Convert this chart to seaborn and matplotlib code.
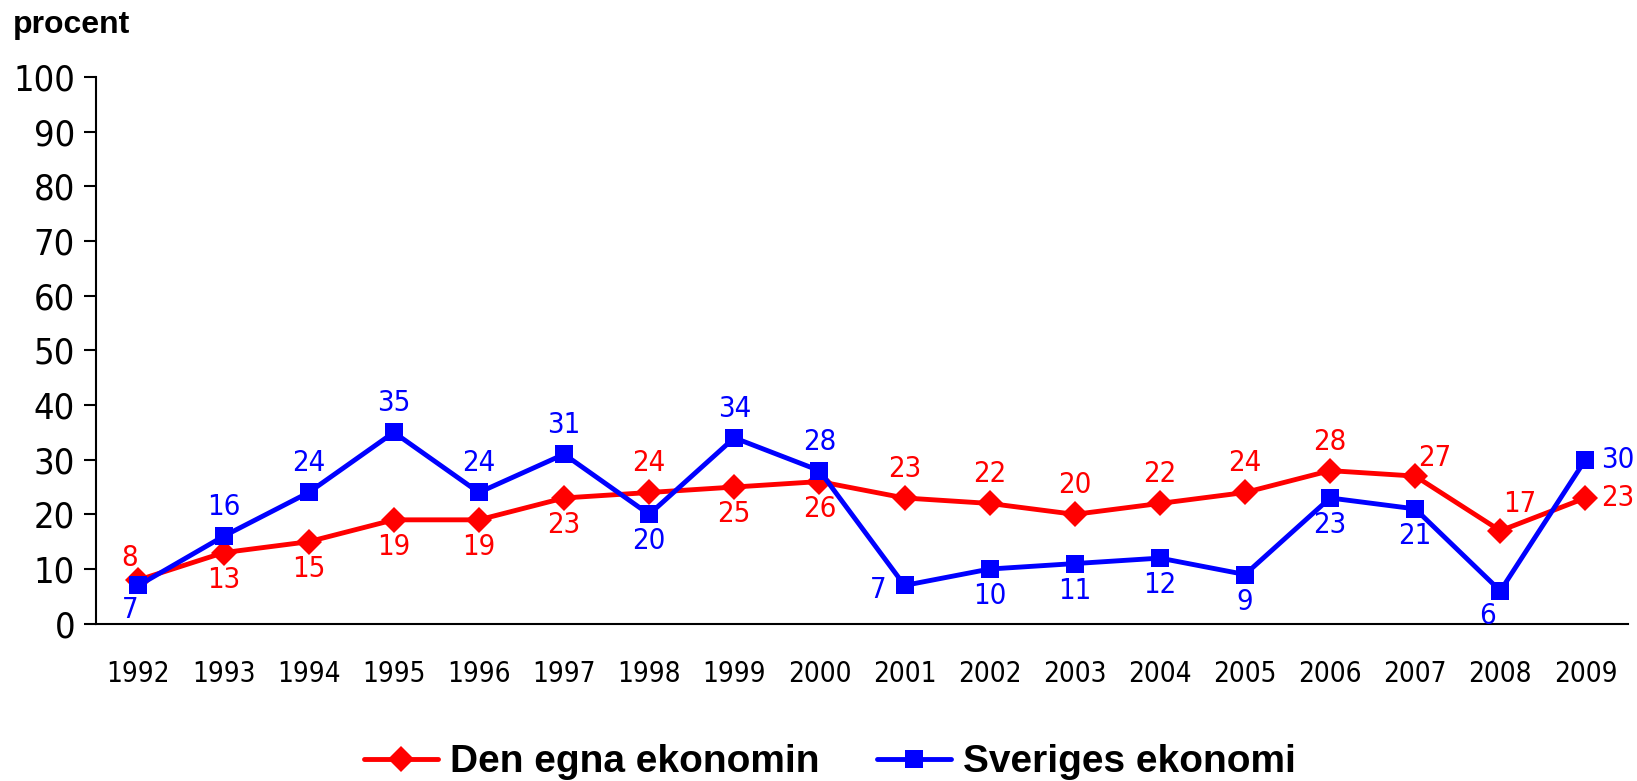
import numpy as np
import pandas as pd
import matplotlib
matplotlib.use("Agg")
import matplotlib.pyplot as plt
import seaborn as sns

years = list(range(1992, 2010))
egna = [8, 13, 15, 19, 19, 23, 24, 25, 26, 23, 22, 20, 22, 24, 28, 27, 17, 23]
sverige = [7, 16, 24, 35, 24, 31, 20, 34, 28, 7, 10, 11, 12, 9, 23, 21, 6, 30]
series_names = ["Den egna ekonomin", "Sveriges ekonomi"]

sns.set_theme(style="white")
plt.rcParams["font.family"] = ["DejaVu Sans"]
plt.rcParams["font.stretch"] = "condensed"
plt.rcParams["text.color"] = "black"
plt.rcParams["xtick.color"] = "black"
plt.rcParams["ytick.color"] = "black"

df = pd.DataFrame({"year": years * 2,
                   "value": egna + sverige,
                   "serie": [series_names[0]] * len(years) + [series_names[1]] * len(years)})

fig = plt.figure(figsize=(16.37, 7.81), dpi=100)
ax = fig.add_axes([0.0586, 0.2014, 0.9359, 0.700])

sns.lineplot(data=df, x="year", y="value", hue="serie", style="serie",
             palette=["#ff0000", "#0000ff"], markers=["D", "s"], dashes=False,
             linewidth=3.5, markersize=13, markeredgewidth=0, ax=ax, legend=False)

ax.set_xlim(1991.5, 2009.5)
ax.set_ylim(0, 100)
ax.set_yticks(range(0, 101, 10))
ax.set_xticks(years)
ax.set_xticklabels([str(y) for y in years], fontsize=20)
ax.tick_params(axis="y", labelsize=26, length=9, width=1.5, direction="out", left=True, pad=6)
ax.tick_params(axis="x", length=0, pad=26)
ax.set_xlabel("")
ax.set_ylabel("")
for s in ["top", "right"]:
    ax.spines[s].set_visible(False)
for s in ["left", "bottom"]:
    ax.spines[s].set_linewidth(1.5)
    ax.spines[s].set_color("black")

# label placement (pixels) per point: a = above, b = below, or explicit offsets
egna_pos = ["a8", "b", "b", "b", "b", "b", "a", "b", "b", "a", "a", "a", "a", "a", "a",
            (20, 18), (19, 27), (32, 0)]
sverige_pos = [(-8, -25), "a", "a", "a", "a", "a", "b", "a", "a", (-26, -5), "b", "b", "b", "b",
               "b", "b", (-13, -25), (32, 0)]


def offset(p):
    if p == "a8":
        return (-9, 22)
    if p == "a":
        return (0, 29)
    if p == "b":
        return (0, -27)
    return p


for vals, pos, col in [(egna, egna_pos, "#ff0000"), (sverige, sverige_pos, "#0000ff")]:
    for x, v, p in zip(years, vals, pos):
        ax.annotate(str(v), (x, v), xytext=offset(p), textcoords="offset pixels",
                    ha="center", va="center", fontsize=21, color=col)

fig.text(0.008, 0.968, "procent", fontsize=23, fontweight="bold",
         family=["Liberation Sans", "DejaVu Sans"], stretch="normal", va="center", ha="left")

handles = [plt.Line2D([], [], color="#ff0000", marker="D", lw=3.5, markersize=13, markeredgewidth=0),
           plt.Line2D([], [], color="#0000ff", marker="s", lw=3.5, markersize=13, markeredgewidth=0)]
fig.legend(handles, series_names, loc="center", bbox_to_anchor=(0.507, 0.024), ncol=2,
           frameon=False, handlelength=1.9, handletextpad=0.3, columnspacing=1.5,
           prop={"family": ["Liberation Sans", "DejaVu Sans"], "weight": "bold", "size": 28,
                 "stretch": "normal"})

fig.savefig("out.png", dpi=100)
